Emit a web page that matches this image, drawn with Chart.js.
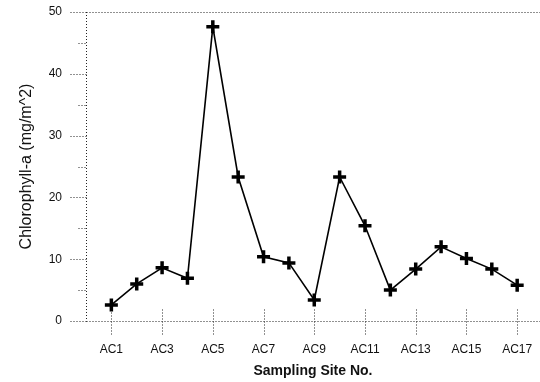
<!DOCTYPE html>
<html>
<head>
<meta charset="utf-8">
<script src="https://cdn.jsdelivr.net/npm/chart.js@4/dist/chart.umd.min.js"></script>
<style>
  html, body { margin: 0; padding: 0; background: #fff; }
  #wrap { width: 540px; height: 382px; }
</style>
</head>
<body>
<div id="wrap"><canvas id="grafica"></canvas></div>
<script>
// datos
const sitios = ['AC1', 'AC2', 'AC3', 'AC4', 'AC5', 'AC6', 'AC7', 'AC8', 'AC9',
    'AC10', 'AC11', 'AC12', 'AC13', 'AC14', 'AC15', 'AC16', 'AC17'];
const clorofila = [2.6, 6.0, 8.6, 6.9, 47.6, 23.3, 10.4, 9.4, 3.4,
    23.3, 15.4, 5.0, 8.4, 12.0, 10.1, 8.4, 5.8];
const ticksY = [0, 10, 20, 30, 40, 50];

const fuente = "'Liberation Sans', Arial, sans-serif";
const punteado = '#222';

// ejes y ticks punteados (largos en las decenas, cortos en los cincos)
const marcasPunteadas = {
    id: 'marcasPunteadas',
    beforeDatasetsDraw(chart) {
        const ctx = chart.ctx;
        const x = chart.scales.x;
        const y = chart.scales.y;
        const area = chart.chartArea;
        const izq = Math.round(area.left) + 0.5;
        const abajo = Math.round(area.bottom) + 0.5;
        ctx.save();
        ctx.strokeStyle = punteado;
        ctx.lineWidth = 1;
        ctx.setLineDash([1, 2]);
        // borde superior, eje x y eje y
        ctx.beginPath();
        ctx.moveTo(izq, Math.round(area.top) + 0.5);
        ctx.lineTo(area.right, Math.round(area.top) + 0.5);
        ctx.moveTo(izq, abajo);
        ctx.lineTo(area.right, abajo);
        ctx.moveTo(izq, area.top);
        ctx.lineTo(izq, abajo);
        ctx.stroke();
        // ticks eje y
        for (let v = 0; v <= 50; v += 5) {
            const py = Math.round(y.getPixelForValue(v)) + 0.5;
            const largo = v % 10 === 0 ? 16 : 8;
            ctx.beginPath();
            ctx.moveTo(izq - largo, py);
            ctx.lineTo(izq, py);
            ctx.stroke();
        }
        // ticks eje x
        sitios.forEach((s, i) => {
            if (i % 2 !== 0) return;
            const px = Math.round(x.getPixelForValue(i + 1)) + 0.5;
            ctx.beginPath();
            ctx.moveTo(px, abajo - 12);
            ctx.lineTo(px, abajo + 13);
            ctx.stroke();
        });
        ctx.restore();
    }
};

const ctx = document.getElementById('grafica').getContext('2d');
new Chart(ctx, {
    type: 'line',
    data: {
        datasets: [{
            label: 'Chlorophyll-a',
            data: clorofila.map((v, i) => ({ x: i + 1, y: v })),
            borderColor: '#000',
            backgroundColor: '#000',
            borderWidth: 1.6,
            pointStyle: 'cross',
            pointRadius: 6.5,
            pointBorderWidth: 3.5,
            pointBorderColor: '#000',
            tension: 0
        }]
    },
    plugins: [marcasPunteadas],
    options: {
        responsive: true,
        maintainAspectRatio: false,
        animation: false,
        layout: { autoPadding: false, padding: { top: 12, right: 0, left: 0, bottom: 0 } },
        plugins: {
            legend: { display: false },
            title: { display: false },
            tooltip: { enabled: false }
        },
        scales: {
            x: {
                type: 'linear',
                min: 0,
                max: 17.9,
                afterFit: (s) => {
                    s.height = 61;
                    s.paddingLeft = 0;
                    s.paddingRight = 0;
                },
                afterBuildTicks: (s) => {
                    s.ticks = sitios.map((n, i) => ({ value: i + 1 })).filter((t, i) => i % 2 === 0);
                },
                ticks: {
                    autoSkip: false,
                    maxRotation: 0,
                    padding: 21,
                    color: '#111',
                    font: { family: fuente, size: 12 },
                    callback: (v) => sitios[v - 1]
                },
                grid: { display: false, drawTicks: false },
                border: { display: false },
                title: {
                    display: true,
                    text: 'Sampling Site No.',
                    color: '#111',
                    font: { family: fuente, size: 14, weight: 'bold' },
                    padding: { top: 6, bottom: 2 }
                }
            },
            y: {
                min: 0,
                max: 50,
                afterFit: (s) => {
                    s.width = 86;
                    s.paddingTop = 0;
                    s.paddingBottom = 0;
                },
                afterBuildTicks: (s) => {
                    s.ticks = ticksY.map((v) => ({ value: v }));
                },
                ticks: {
                    padding: 24,
                    color: '#111',
                    font: { family: fuente, size: 12 }
                },
                grid: { display: false, drawTicks: false },
                border: { display: false },
                title: {
                    display: true,
                    text: 'Chlorophyll-a (mg/m^2)',
                    color: '#111',
                    font: { family: fuente, size: 16 },
                    padding: { top: 17, bottom: 0 }
                }
            }
        }
    }
});
</script>
</body>
</html>
